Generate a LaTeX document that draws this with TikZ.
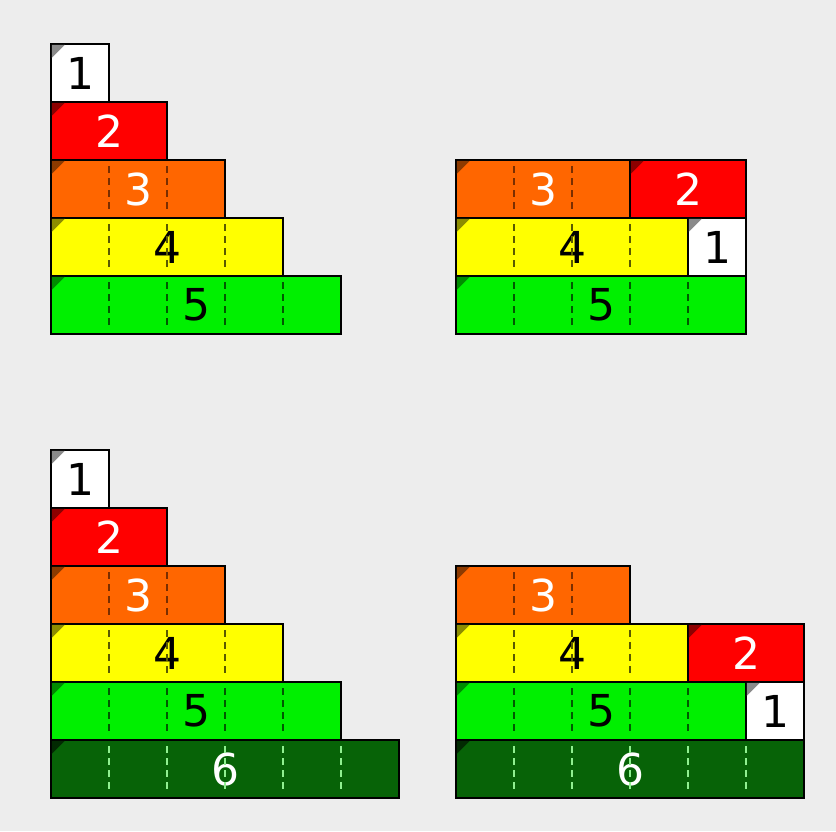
\documentclass[tikz,border=0pt]{standalone}
\usepackage{fontspec}
\setmainfont{DejaVu Sans}
\definecolor{bgcol}{HTML}{EDEDED}
\definecolor{cw}{HTML}{FFFFFF}
\definecolor{cr}{HTML}{FF0000}
\definecolor{co}{HTML}{FF6600}
\definecolor{cy}{HTML}{FFFF00}
\definecolor{cg}{HTML}{00F000}
\definecolor{cd}{HTML}{076307}
\definecolor{tw}{HTML}{8A8A8A}
\definecolor{tr}{HTML}{8C0000}
\definecolor{to}{HTML}{8C3A00}
\definecolor{ty}{HTML}{8C8C00}
\definecolor{tg}{HTML}{008C00}
\definecolor{td}{HTML}{022A02}
\definecolor{dko}{HTML}{7A2E00}
\definecolor{dky}{HTML}{5A5A00}
\definecolor{dkg}{HTML}{005A00}
\definecolor{dkd}{HTML}{90F090}
\tikzset{
  barbox/.style={draw=black, line width=1.6pt, rectangle, anchor=north west,
    minimum height=58pt, inner sep=0pt, outer sep=0pt,
    font=\fontsize{44}{44}\selectfont},
  n1/.style={barbox, fill=cw, text=black, minimum width=58pt},
  n2/.style={barbox, fill=cr, text=white, minimum width=116pt},
  n3/.style={barbox, fill=co, text=white, minimum width=174pt},
  n4/.style={barbox, fill=cy, text=black, minimum width=232pt},
  n5/.style={barbox, fill=cg, text=black, minimum width=290pt},
  n6/.style={barbox, fill=cd, text=white, minimum width=348pt},
  dashline/.style={line width=1.5pt, dash pattern=on 7pt off 5pt},
}
\newcommand\barbits[4]{%
  \fill[#3] ([shift={(0.8,0.8)}]#1.north west) -- ++(13,0) -- ++(-13,13) -- cycle;
  \ifnum#2>0
    \foreach \k in {1,...,#2}{%
      \draw[#4, dashline] ([xshift=\k*58pt, yshift=-6pt]#1.north west) -- ([xshift=\k*58pt, yshift=6pt]#1.south west);}%
  \fi}
\begin{document}
\begin{tikzpicture}[x=1pt, y=-1pt]
\fill[bgcol] (0,0) rectangle (836,831);
\useasboundingbox (0,0) rectangle (836,831);

% top-left
\node[n1] (a1) at (51,44) {1};
\node[n2] (a2) at (51,102) {2};
\node[n3] (a3) at (51,160) {3};
\node[n4] (a4) at (51,218) {4};
\node[n5] (a5) at (51,276) {5};
\barbits{a1}{0}{tw}{black}
\barbits{a2}{0}{tr}{black}
\barbits{a3}{2}{to}{dko}
\barbits{a4}{3}{ty}{dky}
\barbits{a5}{4}{tg}{dkg}

% top-right
\node[n3] (b3) at (456,160) {3};
\node[n2] (b2) at (630,160) {2};
\node[n4] (b4) at (456,218) {4};
\node[n1] (b1) at (688,218) {1};
\node[n5] (b5) at (456,276) {5};
\barbits{b3}{2}{to}{dko}
\barbits{b2}{0}{tr}{black}
\barbits{b4}{3}{ty}{dky}
\barbits{b1}{0}{tw}{black}
\barbits{b5}{4}{tg}{dkg}

% bottom-left
\node[n1] (c1) at (51,450) {1};
\node[n2] (c2) at (51,508) {2};
\node[n3] (c3) at (51,566) {3};
\node[n4] (c4) at (51,624) {4};
\node[n5] (c5) at (51,682) {5};
\node[n6] (c6) at (51,740) {6};
\barbits{c1}{0}{tw}{black}
\barbits{c2}{0}{tr}{black}
\barbits{c3}{2}{to}{dko}
\barbits{c4}{3}{ty}{dky}
\barbits{c5}{4}{tg}{dkg}
\barbits{c6}{5}{td}{dkd}

% bottom-right
\node[n3] (d3) at (456,566) {3};
\node[n4] (d4) at (456,624) {4};
\node[n2] (d2) at (688,624) {2};
\node[n5] (d5) at (456,682) {5};
\node[n1] (d1) at (746,682) {1};
\node[n6] (d6) at (456,740) {6};
\barbits{d3}{2}{to}{dko}
\barbits{d4}{3}{ty}{dky}
\barbits{d2}{0}{tr}{black}
\barbits{d5}{4}{tg}{dkg}
\barbits{d1}{0}{tw}{black}
\barbits{d6}{5}{td}{dkd}
\end{tikzpicture}
\end{document}
